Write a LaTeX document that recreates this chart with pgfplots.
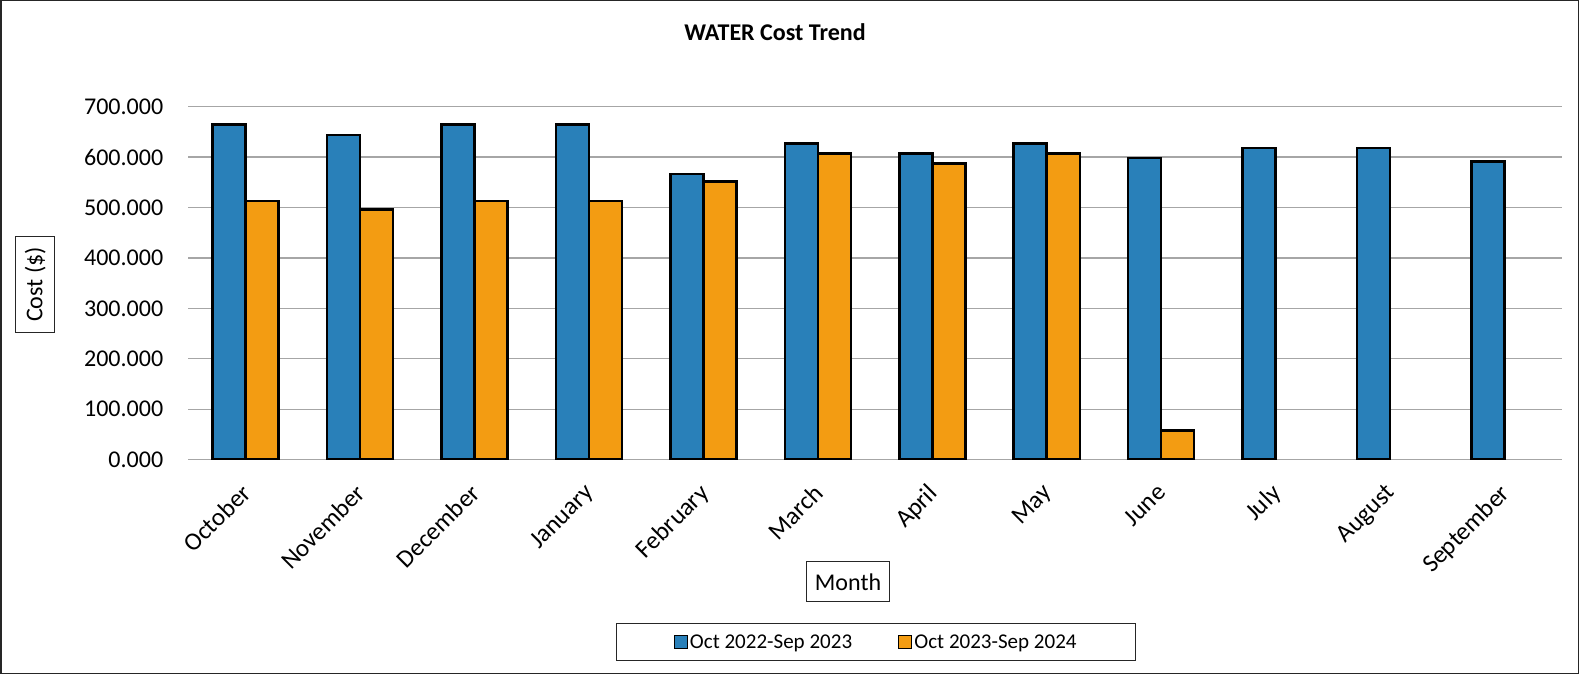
\documentclass[border=0pt]{standalone}
\usepackage{fontspec}
\setmainfont{Carlito}
\usepackage{pgfplots}
\pgfplotsset{compat=1.18}
\definecolor{cblue}{HTML}{2980B9}
\definecolor{corange}{HTML}{F39C12}
\begin{document}
\begin{tikzpicture}
\draw[line width=1.5pt, black!85] (1.5pt,1.5pt) rectangle (1577.5pt,673.5pt);
\node[font=\fontsize{24}{28}\selectfont\bfseries] at (775pt,642pt) {WATER Cost Trend};
\begin{axis}[
  at={(189pt,215pt)}, anchor=south west,
  scale only axis, width=1372pt, height=352.7pt,
  ybar=0pt, bar width=33pt,
  xmin=-0.5, xmax=11.5, ymin=0, ymax=700,
  ytick={0,100,...,700},
  xtick={0,...,11},
  xticklabels={October,November,December,January,February,March,April,May,June,July,August,September},
  ymajorgrids, grid style={black!35, line width=1.2pt},
  axis line style={draw=none},
  major tick length=0pt,
  tick label style={font=\fontsize{24}{28}\selectfont},
  /pgf/number format/assume math mode=true,
  y tick label style={/pgf/number format/fixed, /pgf/number format/fixed zerofill, /pgf/number format/precision=3, /pgf/number format/1000 sep={}},
  yticklabel style={anchor=east, inner sep=0pt, xshift=-25pt},
  xticklabel style={rotate=45, anchor=north east, inner sep=0pt, yshift=-12pt, xshift=-20pt, font=\fontsize{25}{29}\selectfont},
  legend columns=2,
  legend style={at={(0.5008,-0.5174)}, anchor=center, draw=black!85, line width=1pt,
    font=\fontsize{21}{25}\selectfont, inner xsep=57pt, inner ysep=9pt,
    /tikz/every even column/.append style={column sep=44pt}},
  legend image code/.code={\draw[#1, line width=1.2pt] (-4pt,-6.5pt) rectangle (9pt,6.5pt);},
]
\addplot[fill=cblue, draw=black, line width=2.5pt] coordinates {
(0,665) (1,644) (2,665) (3,665) (4,566) (5,627) (6,607) (7,627) (8,598) (9,618) (10,618) (11,591)};
\addplot[fill=corange, draw=black, line width=2.5pt] coordinates {
(0,513) (1,496) (2,513) (3,513) (4,552) (5,607) (6,587) (7,607) (8,58)};
\legend{Oct 2022-Sep 2023, Oct 2023-Sep 2024}
\end{axis}
\node[draw=black!85, line width=1pt, rotate=90, minimum width=95pt, minimum height=39pt, inner sep=0pt, font=\fontsize{24}{28}\selectfont] at (36pt,390pt) {Cost (\$)};
\node[draw=black!85, line width=1pt, minimum width=83pt, minimum height=40pt, inner sep=0pt, font=\fontsize{24}{28}\selectfont] at (848pt,93pt) {Month};
\end{tikzpicture}
\end{document}
